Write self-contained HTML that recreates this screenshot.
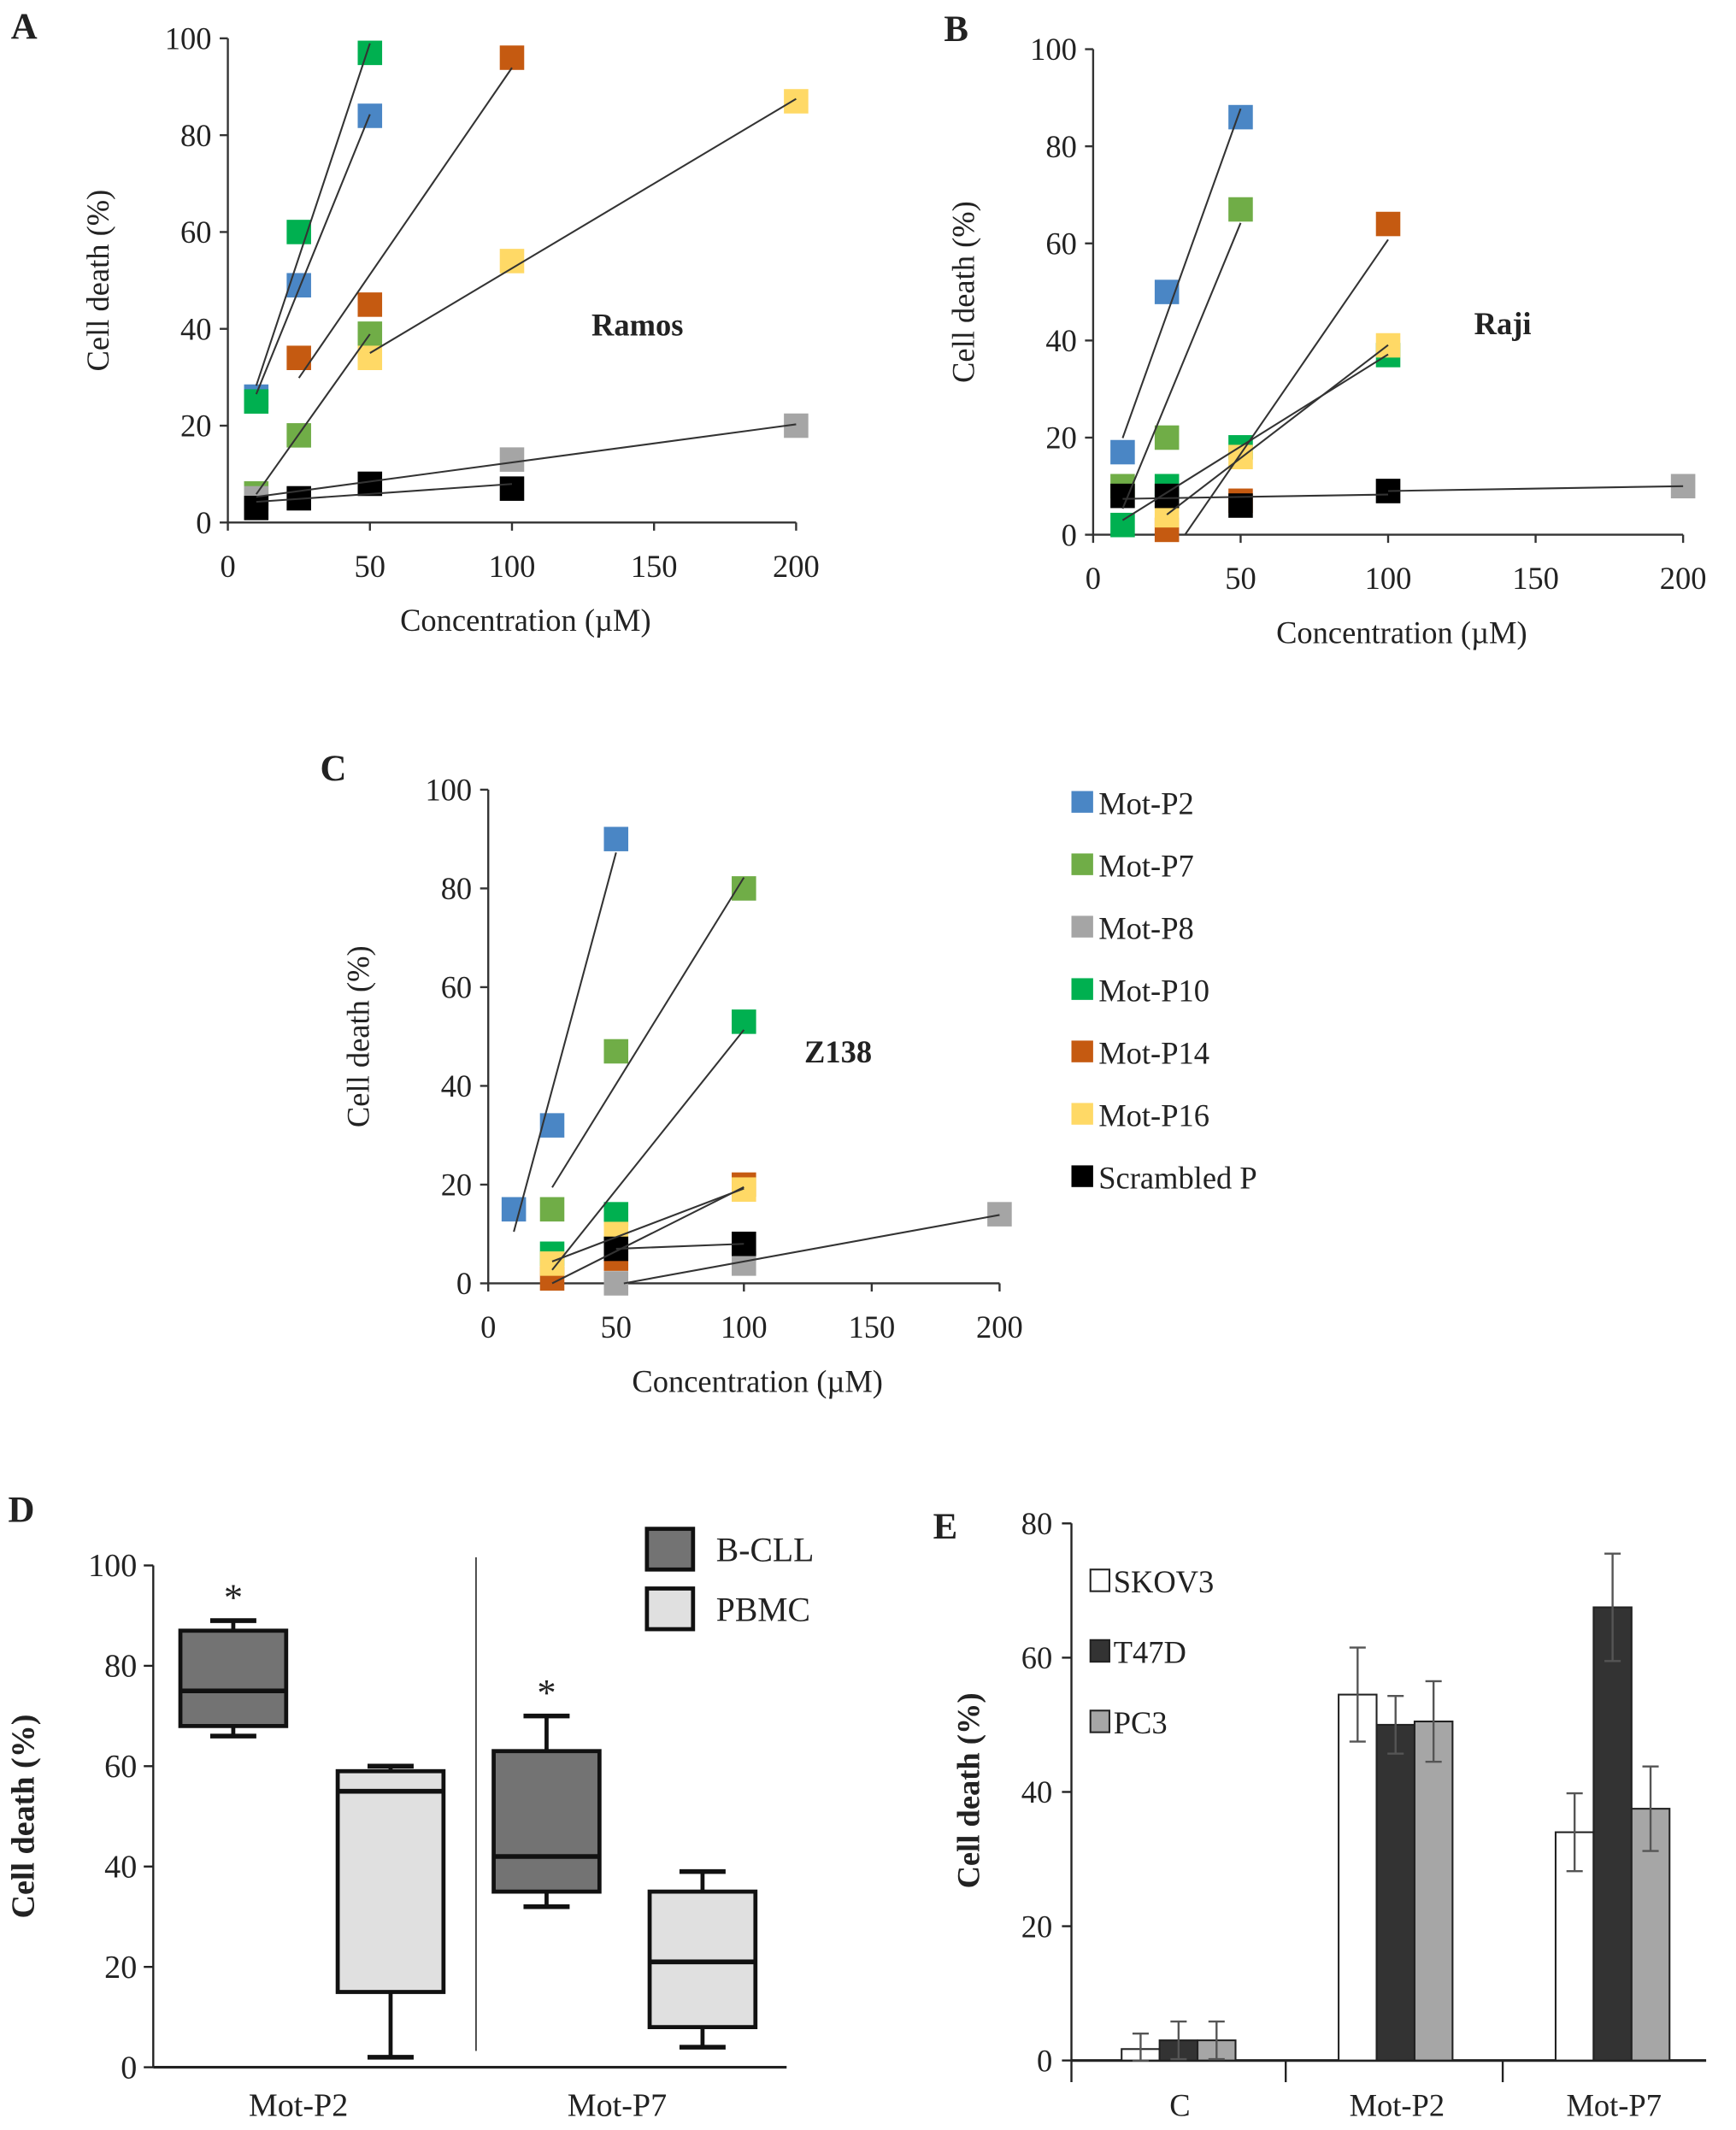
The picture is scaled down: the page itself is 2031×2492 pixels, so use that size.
<!DOCTYPE html>
<html><head><meta charset="utf-8"><style>
html,body{margin:0;padding:0;background:#fff}
svg{display:block}
text{font-family:"Liberation Serif","Times New Roman","DejaVu Serif",serif;fill:#222}
</style></head><body>
<svg id="fig" width="2031" height="2492" viewBox="0 0 1280 1570" font-family="Liberation Serif, serif" xmlns="http://www.w3.org/2000/svg"></svg>
<script>
const seriesNames=["Mot-P2","Mot-P7","Mot-P8","Mot-P10","Mot-P14","Mot-P16","Scrambled P"];
const seriesColors=["#4a86c5","#70ad47","#a5a5a5","#00b050","#c55a11","#ffd966","#000000"];
// Panel A (Ramos)
const aX=[[10,25,50],[10,25,50],[10,100,200],[10,25,50],[25,50,100],[50,100,200],[10,25,50,100]];
const aY=[[26,49,84],[6,18,39],[5,13,20],[25,60,97],[34,45,96],[34,54,87],[3,5,8,7]];
// Panel B (Raji)
const bX=[[10,25,50],[10,25,50],[100,200],[10,25,50,100],[25,50,100],[25,50,100],[10,25,50,100]];
const bY=[[17,50,86],[10,20,67],[9,10],[2,10,18,37],[1,7,64],[4,16,39],[8,8,6,9]];
// Panel C (Z138)
const cX=[[10,25,50],[25,50,100],[50,100,200],[25,50,100],[25,50,100],[25,50,100],[50,100]];
const cY=[[15,32,90],[15,47,80],[0,4,14],[6,14,53],[1,5,20],[4,10,19],[7,8]];
const xTicks=[0,50,100,150,200];
const yTicks=[0,20,40,60,80,100];
// Panel D box plot [min,q1,median,q3,max]
const dCats=["Mot-P2","Mot-P7"];
const dBCLL=[[66,68,75,87,89],[32,35,42,63,70]];
const dPBMC=[[2,15,55,59,60],[4,8,21,35,39]];
// Panel E bars
const eCats=["C","Mot-P2","Mot-P7"];
const eSeries=["SKOV3","T47D","PC3"];
const eColors=["#ffffff","#333333","#a6a6a6"];
const eVals=[[1.7,54.5,34],[3,50,67.5],[3,50.5,37.5]];
const eErr=[[2.3,7,5.8],[2.8,4.3,8],[2.8,6,6.3]];
const eTicks=[0,20,40,60,80];

const NS="http://www.w3.org/2000/svg";
const svg=document.getElementById('fig');
function mk(tag,attrs,parent,txt){const e=document.createElementNS(NS,tag);for(const k in attrs)e.setAttribute(k,attrs[k]);if(txt!==undefined)e.textContent=txt;(parent||svg).appendChild(e);return e;}

function scatterPanel(cfg){
  const g=mk('g',{});
  
  
  const sx=v=>cfg.x0+(cfg.x1-cfg.x0)*v/200;
  const sy=v=>cfg.y0-(cfg.y0-cfg.y1)*v/100;
  const ax=mk('path',{d:`M${cfg.x0},${cfg.y1} L${cfg.x0},${cfg.y0} L${sx(200)},${cfg.y0}`,stroke:'#333','stroke-width':1.5,fill:'none'},g);
  
  yTicks.forEach(t=>{mk('line',{x1:cfg.x0-6,x2:cfg.x0,y1:sy(t),y2:sy(t),stroke:'#333','stroke-width':1.5},g);
    const l=mk('text',{x:cfg.x0-12,y:sy(t)+8,'text-anchor':'end','font-size':23},g,t);
    });
  xTicks.forEach(t=>{mk('line',{x1:sx(t),x2:sx(t),y1:cfg.y0,y2:cfg.y0+6,stroke:'#333','stroke-width':1.5},g);
    const l=mk('text',{x:sx(t),y:cfg.y0+40,'text-anchor':'middle','font-size':23},g,t);
    });
  const xt=mk('text',{x:(cfg.x0+sx(200))/2+10,y:cfg.y0+80,'text-anchor':'middle','font-size':23},g,'Concentration (µM)');
  
  const ym=(cfg.y0+cfg.y1)/2;
  const yt=mk('text',{x:cfg.x0-88,y:ym,'text-anchor':'middle','font-size':23,transform:`rotate(-90 ${cfg.x0-88} ${ym})`},g,'Cell death (%)');
  
  const pl=mk('text',{x:cfg.lx,y:cfg.ly,'font-size':27,'font-weight':'bold'},g,cfg.letter);
  
  const cl=mk('text',{x:cfg.cx,y:cfg.cy,'font-size':23,'font-weight':'bold','text-anchor':'middle'},g,cfg.cell);
  
  cfg.X.forEach((xs,i)=>{
    cfg.Y[i].forEach((v,j)=>{
      const r=mk('rect',{x:sx(xs[j])-9,y:sy(v)-9,width:18,height:18,fill:seriesColors[i]},g);
      
      
    });
  });
  cfg.X.forEach((xs,i)=>{
    const ys=cfg.Y[i];const n=xs.length;
    const mx=xs.reduce((a,b)=>a+b)/n,my=ys.reduce((a,b)=>a+b)/n;
    let num=0,den=0;xs.forEach((x,k)=>{num+=(x-mx)*(ys[k]-my);den+=(x-mx)*(x-mx);});
    const m=den?num/den:0,b=my-m*mx;
    let xa=Math.min(...xs),xb=Math.max(...xs);
    if(m>0&&m*xa+b<0)xa=-b/m;
    const ln=mk('line',{x1:sx(xa),y1:sy(m*xa+b),x2:sx(xb),y2:sy(m*xb+b),stroke:'#333','stroke-width':1.3},g);
    
    
  });
}
scatterPanel({name:'panel-a-ramos',x0:168,x1:587,y0:385,y1:28,X:aX,Y:aY,letter:'A',lx:8,ly:28,cell:'Ramos',cx:470,cy:247});
scatterPanel({name:'panel-b-raji',x0:806,x1:1241,y0:394,y1:36,X:bX,Y:bY,letter:'B',lx:696,ly:30,cell:'Raji',cx:1108,cy:246});
scatterPanel({name:'panel-c-z138',x0:360,x1:737,y0:946,y1:582,X:cX,Y:cY,letter:'C',lx:236,ly:575,cell:'Z138',cx:618,cy:783});

// Legend C
seriesNames.forEach((n,i)=>{
  const y=592+i*46;
  const r=mk('rect',{x:790,y:y-9,width:16,height:16,fill:seriesColors[i]});
  
  const t=mk('text',{x:810,y:y+8,'font-size':23},svg,n);
  
});

// Panel D
(function(){
  const g=mk('g',{});
  const x0=113,x1=580,y0=1524,y1=1154;
  const sy=v=>y0-(y0-y1)*v/100;
  mk('line',{x1:x0,y1:y1,x2:x0,y2:y0,stroke:'#222','stroke-width':1.5},g);
  mk('line',{x1:x0,y1:y0,x2:x1,y2:y0,stroke:'#222','stroke-width':2},g);
  mk('line',{x1:351,y1:1148,x2:351,y2:1512,stroke:'#222','stroke-width':1},g);
  yTicks.forEach(t=>{mk('line',{x1:x0-7,x2:x0,y1:sy(t),y2:sy(t),stroke:'#222','stroke-width':1.5},g);
    const l=mk('text',{x:x0-12,y:sy(t)+8,'text-anchor':'end','font-size':24},g,t);
    });
  const yt=mk('text',{x:25,y:1339,'text-anchor':'middle','font-size':24,'font-weight':'bold',transform:'rotate(-90 25 1339)'},g,'Cell death (%)');
  
  const pl=mk('text',{x:6,y:1122,'font-size':27,'font-weight':'bold'},g,'D');
  
  const centers=[[172,288],[403,518]];
  dCats.forEach((c,ci)=>{
    const l=mk('text',{x:ci?455:220,y:1560,'text-anchor':'middle','font-size':24},g,c);
    
    [[dBCLL,'#737373','b-cll'],[dPBMC,'#e0e0e0','pbmc']].forEach((s,si)=>{
      const d=s[0][ci],cx=centers[ci][si],w=78;
      mk('line',{x1:cx,x2:cx,y1:sy(d[0]),y2:sy(d[4]),stroke:'#111','stroke-width':3},g);
      mk('line',{x1:cx-17,x2:cx+17,y1:sy(d[0]),y2:sy(d[0]),stroke:'#111','stroke-width':3.5},g);
      mk('line',{x1:cx-17,x2:cx+17,y1:sy(d[4]),y2:sy(d[4]),stroke:'#111','stroke-width':3.5},g);
      const b=mk('rect',{x:cx-w/2,y:sy(d[3]),width:w,height:sy(d[1])-sy(d[3]),fill:s[1],stroke:'#111','stroke-width':3},g);
      
      mk('line',{x1:cx-w/2,x2:cx+w/2,y1:sy(d[2]),y2:sy(d[2]),stroke:'#111','stroke-width':3.5},g);
      if(si===0){const st=mk('text',{x:cx,y:sy(d[4])-8,'text-anchor':'middle','font-size':28},g,'*');
        }
    });
  });
  [['B-CLL','#737373',1142],['PBMC','#e0e0e0',1186]].forEach(s=>{
    const r=mk('rect',{x:477,y:s[2]-15,width:34,height:30,fill:s[1],stroke:'#111','stroke-width':3},g);
    
    const t=mk('text',{x:528,y:s[2]+9,'font-size':25},g,s[0]);
    
  });
})();

// Panel E
(function(){
  const g=mk('g',{});
  const x0=790,gw=160,y0=1519,y1=1123;
  const sy=v=>y0-(y0-y1)*v/80;
  mk('line',{x1:x0,y1:y1,x2:x0,y2:y0+16,stroke:'#222','stroke-width':1.5},g);
  mk('line',{x1:x0,y1:y0,x2:1258,y2:y0,stroke:'#222','stroke-width':2},g);
  eTicks.forEach(t=>{mk('line',{x1:x0-7,x2:x0,y1:sy(t),y2:sy(t),stroke:'#222','stroke-width':1.5},g);
    const l=mk('text',{x:x0-14,y:sy(t)+8,'text-anchor':'end','font-size':23},g,t);
    });
  const yt=mk('text',{x:722,y:1320,'text-anchor':'middle','font-size':23,'font-weight':'bold',transform:'rotate(-90 722 1320)'},g,'Cell death (%)');
  
  const pl=mk('text',{x:688,y:1134,'font-size':27,'font-weight':'bold'},g,'E');
  
  const bw=28;
  eCats.forEach((c,ci)=>{
    const cx=x0+gw*(ci+0.5)-1;
    if(ci<2)mk('line',{x1:x0+gw*(ci+1)-2,x2:x0+gw*(ci+1)-2,y1:y0,y2:y0+16,stroke:'#222','stroke-width':1.5},g);
    const l=mk('text',{x:cx+1,y:1560,'text-anchor':'middle','font-size':23},g,c);
    
    eSeries.forEach((s,si)=>{
      const v=eVals[si][ci],e=eErr[si][ci],bx=cx-1.5*bw+si*bw;
      const b=mk('rect',{x:bx,y:sy(v),width:bw,height:y0-sy(v),fill:eColors[si],stroke:'#222','stroke-width':1.3},g);
      
      const m=bx+bw/2;
      mk('path',{d:`M${m},${sy(v+e)} L${m},${sy(Math.max(0,v-e))} M${m-6},${sy(v+e)} L${m+6},${sy(v+e)} M${m-6},${sy(Math.max(0,v-e))} L${m+6},${sy(Math.max(0,v-e))}`,stroke:'#555','stroke-width':1.5,fill:'none'},g);
    });
  });
  eSeries.forEach((s,i)=>{
    const y=1165+i*52;
    const r=mk('rect',{x:804,y:y-8,width:14,height:16,fill:eColors[i],stroke:'#222','stroke-width':1.3},g);
    
    const t=mk('text',{x:821,y:y+9,'font-size':23},g,s);
    
  });
})();
</script>
</body></html>
